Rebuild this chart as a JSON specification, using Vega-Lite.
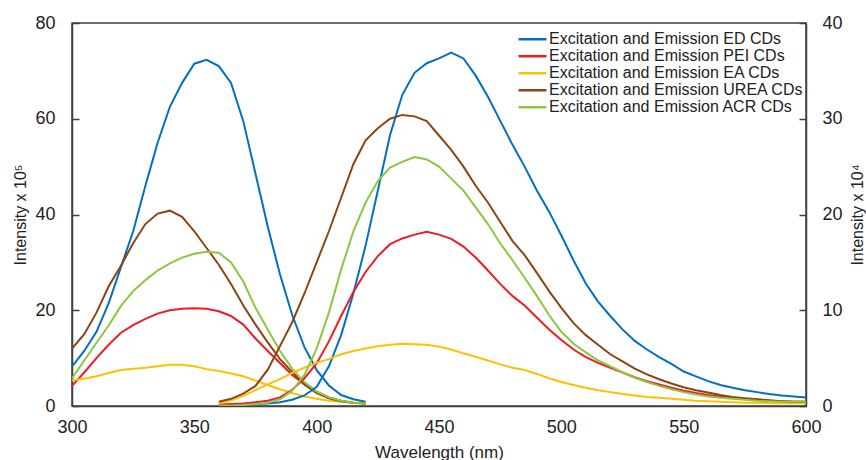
{
"$schema": "https://vega.github.io/schema/vega-lite/v6.json",
"width": 734, "height": 383,
"autosize": {"type": "none"},
"padding": {"left": 72, "top": 23, "right": 60, "bottom": 54},
"background": "white",
"config": {"view": {"stroke": "#404040", "strokeWidth": 1.5}, "font": "Liberation Sans",
 "axis": {"grid": false, "domainColor": "#404040", "domainWidth": 1.5, "tickColor": "#404040", "tickWidth": 1.5, "labelColor": "#222", "titleColor": "#222", "labelFont": "Liberation Sans", "titleFont": "Liberation Sans", "titleFontWeight": "normal"}},
"datasets": {
"exc": [
{"w":300,"v":8.2,"s":"ED"},{"w":305,"v":11.5,"s":"ED"},{"w":310,"v":15.5,"s":"ED"},{"w":315,"v":21.5,"s":"ED"},{"w":320,"v":29,"s":"ED"},{"w":325,"v":36.5,"s":"ED"},{"w":330,"v":46,"s":"ED"},{"w":335,"v":55,"s":"ED"},{"w":340,"v":62.5,"s":"ED"},{"w":345,"v":67.5,"s":"ED"},{"w":350,"v":71.5,"s":"ED"},{"w":355,"v":72.3,"s":"ED"},{"w":360,"v":71,"s":"ED"},{"w":365,"v":67.5,"s":"ED"},{"w":370,"v":59.5,"s":"ED"},{"w":375,"v":48.5,"s":"ED"},{"w":380,"v":37.5,"s":"ED"},{"w":385,"v":27.5,"s":"ED"},{"w":390,"v":19,"s":"ED"},{"w":395,"v":12.3,"s":"ED"},{"w":400,"v":7.5,"s":"ED"},{"w":405,"v":4.3,"s":"ED"},{"w":410,"v":2.3,"s":"ED"},{"w":415,"v":1.4,"s":"ED"},{"w":420,"v":0.9,"s":"ED"},
{"w":300,"v":4.2,"s":"PEI"},{"w":305,"v":7,"s":"PEI"},{"w":310,"v":10,"s":"PEI"},{"w":315,"v":12.8,"s":"PEI"},{"w":320,"v":15.3,"s":"PEI"},{"w":325,"v":16.9,"s":"PEI"},{"w":330,"v":18.2,"s":"PEI"},{"w":335,"v":19.3,"s":"PEI"},{"w":340,"v":20,"s":"PEI"},{"w":345,"v":20.3,"s":"PEI"},{"w":350,"v":20.4,"s":"PEI"},{"w":355,"v":20.3,"s":"PEI"},{"w":360,"v":19.8,"s":"PEI"},{"w":365,"v":18.8,"s":"PEI"},{"w":370,"v":17,"s":"PEI"},{"w":375,"v":14.1,"s":"PEI"},{"w":380,"v":11.5,"s":"PEI"},{"w":385,"v":9,"s":"PEI"},{"w":390,"v":6.5,"s":"PEI"},{"w":395,"v":4.5,"s":"PEI"},{"w":400,"v":3,"s":"PEI"},{"w":405,"v":1.8,"s":"PEI"},{"w":410,"v":1.1,"s":"PEI"},{"w":415,"v":0.7,"s":"PEI"},{"w":420,"v":0.5,"s":"PEI"},
{"w":300,"v":5.4,"s":"EA"},{"w":305,"v":5.7,"s":"EA"},{"w":310,"v":6.2,"s":"EA"},{"w":315,"v":6.9,"s":"EA"},{"w":320,"v":7.5,"s":"EA"},{"w":325,"v":7.8,"s":"EA"},{"w":330,"v":8,"s":"EA"},{"w":335,"v":8.3,"s":"EA"},{"w":340,"v":8.6,"s":"EA"},{"w":345,"v":8.6,"s":"EA"},{"w":350,"v":8.3,"s":"EA"},{"w":355,"v":7.7,"s":"EA"},{"w":360,"v":7.3,"s":"EA"},{"w":365,"v":6.8,"s":"EA"},{"w":370,"v":6.2,"s":"EA"},{"w":375,"v":5.3,"s":"EA"},{"w":380,"v":4.4,"s":"EA"},{"w":385,"v":3.5,"s":"EA"},{"w":390,"v":2.7,"s":"EA"},{"w":395,"v":2,"s":"EA"},{"w":400,"v":1.5,"s":"EA"},{"w":405,"v":1.1,"s":"EA"},{"w":410,"v":0.9,"s":"EA"},{"w":415,"v":0.7,"s":"EA"},{"w":420,"v":0.5,"s":"EA"},
{"w":300,"v":12,"s":"UREA"},{"w":305,"v":15,"s":"UREA"},{"w":310,"v":19.5,"s":"UREA"},{"w":315,"v":25,"s":"UREA"},{"w":320,"v":29.3,"s":"UREA"},{"w":325,"v":34,"s":"UREA"},{"w":330,"v":38,"s":"UREA"},{"w":335,"v":40.2,"s":"UREA"},{"w":340,"v":40.8,"s":"UREA"},{"w":345,"v":39.5,"s":"UREA"},{"w":350,"v":36.5,"s":"UREA"},{"w":355,"v":33,"s":"UREA"},{"w":360,"v":29.5,"s":"UREA"},{"w":365,"v":25.5,"s":"UREA"},{"w":370,"v":21,"s":"UREA"},{"w":375,"v":17,"s":"UREA"},{"w":380,"v":13.3,"s":"UREA"},{"w":385,"v":9.8,"s":"UREA"},{"w":390,"v":7.1,"s":"UREA"},{"w":395,"v":4.5,"s":"UREA"},{"w":400,"v":2.7,"s":"UREA"},{"w":405,"v":1.6,"s":"UREA"},{"w":410,"v":1,"s":"UREA"},{"w":415,"v":0.7,"s":"UREA"},{"w":420,"v":0.5,"s":"UREA"},
{"w":300,"v":5.8,"s":"ACR"},{"w":305,"v":9.5,"s":"ACR"},{"w":310,"v":13.2,"s":"ACR"},{"w":315,"v":16.8,"s":"ACR"},{"w":320,"v":20.9,"s":"ACR"},{"w":325,"v":24,"s":"ACR"},{"w":330,"v":26.3,"s":"ACR"},{"w":335,"v":28.3,"s":"ACR"},{"w":340,"v":29.8,"s":"ACR"},{"w":345,"v":31,"s":"ACR"},{"w":350,"v":31.8,"s":"ACR"},{"w":355,"v":32.2,"s":"ACR"},{"w":360,"v":32,"s":"ACR"},{"w":365,"v":30,"s":"ACR"},{"w":370,"v":26,"s":"ACR"},{"w":375,"v":20.5,"s":"ACR"},{"w":380,"v":16,"s":"ACR"},{"w":385,"v":11.5,"s":"ACR"},{"w":390,"v":7.8,"s":"ACR"},{"w":395,"v":5,"s":"ACR"},{"w":400,"v":3,"s":"ACR"},{"w":405,"v":1.8,"s":"ACR"},{"w":410,"v":1.1,"s":"ACR"},{"w":415,"v":0.7,"s":"ACR"},{"w":420,"v":0.5,"s":"ACR"}
],
"em": [
{"w":360,"v":0.1,"s":"ED"},{"w":365,"v":0.1,"s":"ED"},{"w":370,"v":0.15,"s":"ED"},{"w":375,"v":0.2,"s":"ED"},{"w":380,"v":0.25,"s":"ED"},{"w":385,"v":0.4,"s":"ED"},{"w":390,"v":0.65,"s":"ED"},{"w":395,"v":1.1,"s":"ED"},{"w":400,"v":2,"s":"ED"},{"w":405,"v":4.15,"s":"ED"},{"w":410,"v":7.4,"s":"ED"},{"w":415,"v":11.75,"s":"ED"},{"w":420,"v":16.75,"s":"ED"},{"w":425,"v":22.5,"s":"ED"},{"w":430,"v":28.3,"s":"ED"},{"w":435,"v":32.5,"s":"ED"},{"w":440,"v":34.8,"s":"ED"},{"w":445,"v":35.8,"s":"ED"},{"w":450,"v":36.3,"s":"ED"},{"w":455,"v":36.9,"s":"ED"},{"w":460,"v":36.3,"s":"ED"},{"w":465,"v":34.5,"s":"ED"},{"w":470,"v":32.3,"s":"ED"},{"w":475,"v":29.8,"s":"ED"},{"w":480,"v":27.3,"s":"ED"},{"w":485,"v":25,"s":"ED"},{"w":490,"v":22.5,"s":"ED"},{"w":495,"v":20.3,"s":"ED"},{"w":500,"v":17.8,"s":"ED"},{"w":505,"v":15.2,"s":"ED"},{"w":510,"v":12.8,"s":"ED"},{"w":515,"v":10.9,"s":"ED"},{"w":520,"v":9.4,"s":"ED"},{"w":525,"v":8,"s":"ED"},{"w":530,"v":6.8,"s":"ED"},{"w":535,"v":5.9,"s":"ED"},{"w":540,"v":5.1,"s":"ED"},{"w":545,"v":4.4,"s":"ED"},{"w":550,"v":3.6,"s":"ED"},{"w":555,"v":3.1,"s":"ED"},{"w":560,"v":2.6,"s":"ED"},{"w":565,"v":2.2,"s":"ED"},{"w":570,"v":1.9,"s":"ED"},{"w":575,"v":1.65,"s":"ED"},{"w":580,"v":1.45,"s":"ED"},{"w":585,"v":1.25,"s":"ED"},{"w":590,"v":1.1,"s":"ED"},{"w":595,"v":1,"s":"ED"},{"w":600,"v":0.9,"s":"ED"},
{"w":360,"v":0.15,"s":"PEI"},{"w":365,"v":0.2,"s":"PEI"},{"w":370,"v":0.25,"s":"PEI"},{"w":375,"v":0.4,"s":"PEI"},{"w":380,"v":0.55,"s":"PEI"},{"w":385,"v":0.9,"s":"PEI"},{"w":390,"v":1.7,"s":"PEI"},{"w":395,"v":2.9,"s":"PEI"},{"w":400,"v":4.45,"s":"PEI"},{"w":405,"v":6.75,"s":"PEI"},{"w":410,"v":9.4,"s":"PEI"},{"w":415,"v":11.9,"s":"PEI"},{"w":420,"v":14,"s":"PEI"},{"w":425,"v":15.65,"s":"PEI"},{"w":430,"v":16.9,"s":"PEI"},{"w":435,"v":17.5,"s":"PEI"},{"w":440,"v":17.9,"s":"PEI"},{"w":445,"v":18.2,"s":"PEI"},{"w":450,"v":17.9,"s":"PEI"},{"w":455,"v":17.45,"s":"PEI"},{"w":460,"v":16.65,"s":"PEI"},{"w":465,"v":15.5,"s":"PEI"},{"w":470,"v":14.15,"s":"PEI"},{"w":475,"v":12.75,"s":"PEI"},{"w":480,"v":11.5,"s":"PEI"},{"w":485,"v":10.5,"s":"PEI"},{"w":490,"v":9.25,"s":"PEI"},{"w":495,"v":8,"s":"PEI"},{"w":500,"v":6.9,"s":"PEI"},{"w":505,"v":5.9,"s":"PEI"},{"w":510,"v":5.1,"s":"PEI"},{"w":515,"v":4.5,"s":"PEI"},{"w":520,"v":4,"s":"PEI"},{"w":525,"v":3.5,"s":"PEI"},{"w":530,"v":3,"s":"PEI"},{"w":535,"v":2.6,"s":"PEI"},{"w":540,"v":2.25,"s":"PEI"},{"w":545,"v":1.9,"s":"PEI"},{"w":550,"v":1.6,"s":"PEI"},{"w":555,"v":1.35,"s":"PEI"},{"w":560,"v":1.15,"s":"PEI"},{"w":565,"v":1,"s":"PEI"},{"w":570,"v":0.85,"s":"PEI"},{"w":575,"v":0.75,"s":"PEI"},{"w":580,"v":0.65,"s":"PEI"},{"w":585,"v":0.55,"s":"PEI"},{"w":590,"v":0.5,"s":"PEI"},{"w":595,"v":0.45,"s":"PEI"},{"w":600,"v":0.45,"s":"PEI"},
{"w":360,"v":0.25,"s":"EA"},{"w":365,"v":0.6,"s":"EA"},{"w":370,"v":1.05,"s":"EA"},{"w":375,"v":1.65,"s":"EA"},{"w":380,"v":2.25,"s":"EA"},{"w":385,"v":2.8,"s":"EA"},{"w":390,"v":3.45,"s":"EA"},{"w":395,"v":4,"s":"EA"},{"w":400,"v":4.5,"s":"EA"},{"w":405,"v":4.9,"s":"EA"},{"w":410,"v":5.4,"s":"EA"},{"w":415,"v":5.75,"s":"EA"},{"w":420,"v":6,"s":"EA"},{"w":425,"v":6.25,"s":"EA"},{"w":430,"v":6.4,"s":"EA"},{"w":435,"v":6.5,"s":"EA"},{"w":440,"v":6.45,"s":"EA"},{"w":445,"v":6.4,"s":"EA"},{"w":450,"v":6.2,"s":"EA"},{"w":455,"v":5.9,"s":"EA"},{"w":460,"v":5.5,"s":"EA"},{"w":465,"v":5.15,"s":"EA"},{"w":470,"v":4.75,"s":"EA"},{"w":475,"v":4.35,"s":"EA"},{"w":480,"v":4,"s":"EA"},{"w":485,"v":3.75,"s":"EA"},{"w":490,"v":3.35,"s":"EA"},{"w":495,"v":2.9,"s":"EA"},{"w":500,"v":2.5,"s":"EA"},{"w":505,"v":2.2,"s":"EA"},{"w":510,"v":1.9,"s":"EA"},{"w":515,"v":1.65,"s":"EA"},{"w":520,"v":1.45,"s":"EA"},{"w":525,"v":1.25,"s":"EA"},{"w":530,"v":1.1,"s":"EA"},{"w":535,"v":0.95,"s":"EA"},{"w":540,"v":0.85,"s":"EA"},{"w":545,"v":0.75,"s":"EA"},{"w":550,"v":0.65,"s":"EA"},{"w":555,"v":0.55,"s":"EA"},{"w":560,"v":0.5,"s":"EA"},{"w":565,"v":0.45,"s":"EA"},{"w":570,"v":0.4,"s":"EA"},{"w":575,"v":0.35,"s":"EA"},{"w":580,"v":0.35,"s":"EA"},{"w":585,"v":0.3,"s":"EA"},{"w":590,"v":0.3,"s":"EA"},{"w":595,"v":0.3,"s":"EA"},{"w":600,"v":0.3,"s":"EA"},
{"w":360,"v":0.45,"s":"UREA"},{"w":365,"v":0.75,"s":"UREA"},{"w":370,"v":1.3,"s":"UREA"},{"w":375,"v":2.1,"s":"UREA"},{"w":380,"v":3.8,"s":"UREA"},{"w":385,"v":6.25,"s":"UREA"},{"w":390,"v":8.75,"s":"UREA"},{"w":395,"v":11.75,"s":"UREA"},{"w":400,"v":15,"s":"UREA"},{"w":405,"v":18.25,"s":"UREA"},{"w":410,"v":21.75,"s":"UREA"},{"w":415,"v":25.25,"s":"UREA"},{"w":420,"v":27.75,"s":"UREA"},{"w":425,"v":29,"s":"UREA"},{"w":430,"v":30,"s":"UREA"},{"w":435,"v":30.4,"s":"UREA"},{"w":440,"v":30.25,"s":"UREA"},{"w":445,"v":29.75,"s":"UREA"},{"w":450,"v":28.25,"s":"UREA"},{"w":455,"v":26.75,"s":"UREA"},{"w":460,"v":25,"s":"UREA"},{"w":465,"v":23,"s":"UREA"},{"w":470,"v":21.25,"s":"UREA"},{"w":475,"v":19.25,"s":"UREA"},{"w":480,"v":17.25,"s":"UREA"},{"w":485,"v":15.75,"s":"UREA"},{"w":490,"v":13.9,"s":"UREA"},{"w":495,"v":12,"s":"UREA"},{"w":500,"v":10.25,"s":"UREA"},{"w":505,"v":8.65,"s":"UREA"},{"w":510,"v":7.4,"s":"UREA"},{"w":515,"v":6.4,"s":"UREA"},{"w":520,"v":5.4,"s":"UREA"},{"w":525,"v":4.65,"s":"UREA"},{"w":530,"v":3.9,"s":"UREA"},{"w":535,"v":3.3,"s":"UREA"},{"w":540,"v":2.8,"s":"UREA"},{"w":545,"v":2.35,"s":"UREA"},{"w":550,"v":1.95,"s":"UREA"},{"w":555,"v":1.65,"s":"UREA"},{"w":560,"v":1.4,"s":"UREA"},{"w":565,"v":1.15,"s":"UREA"},{"w":570,"v":0.95,"s":"UREA"},{"w":575,"v":0.8,"s":"UREA"},{"w":580,"v":0.7,"s":"UREA"},{"w":585,"v":0.6,"s":"UREA"},{"w":590,"v":0.5,"s":"UREA"},{"w":595,"v":0.45,"s":"UREA"},{"w":600,"v":0.45,"s":"UREA"},
{"w":360,"v":0.05,"s":"ACR"},{"w":365,"v":0.05,"s":"ACR"},{"w":370,"v":0.1,"s":"ACR"},{"w":375,"v":0.2,"s":"ACR"},{"w":380,"v":0.35,"s":"ACR"},{"w":385,"v":0.7,"s":"ACR"},{"w":390,"v":1.6,"s":"ACR"},{"w":395,"v":3.25,"s":"ACR"},{"w":400,"v":6,"s":"ACR"},{"w":405,"v":9.75,"s":"ACR"},{"w":410,"v":14.25,"s":"ACR"},{"w":415,"v":18.25,"s":"ACR"},{"w":420,"v":21.25,"s":"ACR"},{"w":425,"v":23.5,"s":"ACR"},{"w":430,"v":24.9,"s":"ACR"},{"w":435,"v":25.5,"s":"ACR"},{"w":440,"v":26,"s":"ACR"},{"w":445,"v":25.75,"s":"ACR"},{"w":450,"v":25,"s":"ACR"},{"w":455,"v":23.75,"s":"ACR"},{"w":460,"v":22.5,"s":"ACR"},{"w":465,"v":20.75,"s":"ACR"},{"w":470,"v":19,"s":"ACR"},{"w":475,"v":17,"s":"ACR"},{"w":480,"v":15.25,"s":"ACR"},{"w":485,"v":13.4,"s":"ACR"},{"w":490,"v":11.5,"s":"ACR"},{"w":495,"v":9.5,"s":"ACR"},{"w":500,"v":7.75,"s":"ACR"},{"w":505,"v":6.5,"s":"ACR"},{"w":510,"v":5.6,"s":"ACR"},{"w":515,"v":4.75,"s":"ACR"},{"w":520,"v":4.15,"s":"ACR"},{"w":525,"v":3.5,"s":"ACR"},{"w":530,"v":2.95,"s":"ACR"},{"w":535,"v":2.5,"s":"ACR"},{"w":540,"v":2.1,"s":"ACR"},{"w":545,"v":1.75,"s":"ACR"},{"w":550,"v":1.45,"s":"ACR"},{"w":555,"v":1.2,"s":"ACR"},{"w":560,"v":1,"s":"ACR"},{"w":565,"v":0.85,"s":"ACR"},{"w":570,"v":0.75,"s":"ACR"},{"w":575,"v":0.65,"s":"ACR"},{"w":580,"v":0.55,"s":"ACR"},{"w":585,"v":0.5,"s":"ACR"},{"w":590,"v":0.45,"s":"ACR"},{"w":595,"v":0.45,"s":"ACR"},{"w":600,"v":0.45,"s":"ACR"}
]
},
"layer": [
{
 "data": {"name": "exc"},
 "mark": {"type": "line", "strokeWidth": 2, "clip": true},
 "encoding": {
  "x": {"field": "w", "type": "quantitative", "scale": {"domain": [300, 600], "nice": false},
   "axis": {"values": [300,350,400,450,500,550,600], "ticks": false, "labelFlush": false, "labelFontSize": 18, "labelPadding": 12, "title": "Wavelength (nm)", "titleFontSize": 17, "titlePadding": 8}},
  "y": {"field": "v", "type": "quantitative", "scale": {"domain": [0, 80], "nice": false},
   "axis": {"orient": "left", "values": [0,20,40,60,80], "tickSize": -7, "labelFontSize": 18, "labelPadding": 24, "title": "Intensity x 10⁵", "titleFontSize": 16, "titlePadding": 6}},
  "color": {"field": "s", "type": "nominal", "sort": null,
   "scale": {"domain": ["ED","PEI","EA","UREA","ACR"], "range": ["#0070C0","#EE1C25","#FFC000","#8B4513","#8DC63F"]},
   "legend": {"orient": "none", "legendX": 445, "legendY": 8, "title": null, "symbolType": "stroke", "symbolSize": 780, "symbolStrokeWidth": 2.5, "clipHeight": 16.7, "labelFontSize": 16, "labelLimit": 0, "labelColor": "#222", "labelOffset": 1, "rowPadding": 0, "labelFont": "Liberation Sans",
    "labelExpr": "'Excitation and Emission ' + datum.label + ' CDs'"}}
 }
},
{
 "data": {"name": "em"},
 "mark": {"type": "line", "strokeWidth": 2, "clip": true},
 "encoding": {
  "x": {"field": "w", "type": "quantitative", "scale": {"domain": [300, 600], "nice": false}},
  "y": {"field": "v", "type": "quantitative", "scale": {"domain": [0, 40], "nice": false},
   "axis": {"orient": "right", "values": [0,10,20,30,40], "tickSize": -7, "labelFontSize": 18, "labelPadding": 23, "title": "Intensity x 10⁴", "titleFontSize": 16, "titleAngle": 270, "titlePadding": 23}},
  "color": {"field": "s", "type": "nominal", "sort": null,
   "scale": {"domain": ["ED","PEI","EA","UREA","ACR"], "range": ["#0070C0","#EE1C25","#FFC000","#8B4513","#8DC63F"]}}
 }
}
],
"resolve": {"scale": {"y": "independent"}}
}
